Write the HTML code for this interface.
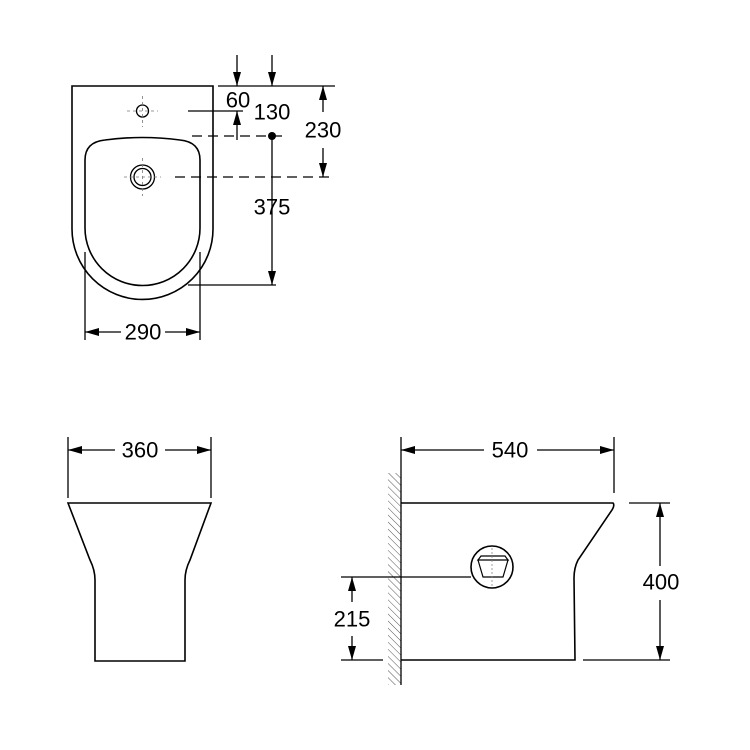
<!DOCTYPE html>
<html><head><meta charset="utf-8"><style>
html,body{margin:0;padding:0;background:#fff}
svg{display:block}
text{font-family:"Liberation Sans",sans-serif;font-size:22px;fill:#000;text-anchor:middle;dominant-baseline:central}
</style></head><body>
<svg width="750" height="750" viewBox="0 0 750 750" xmlns="http://www.w3.org/2000/svg">
<defs>
<marker id="a" viewBox="0 0 14 10" refX="14" refY="5" markerWidth="14" markerHeight="10" markerUnits="userSpaceOnUse" orient="auto-start-reverse"><path d="M0,1 L14,5 L0,9 Z" fill="#000"/></marker>
<pattern id="h" width="5" height="5" patternUnits="userSpaceOnUse" patternTransform="rotate(-45)"><line x1="0" y1="0" x2="0" y2="5" stroke="#555" stroke-width="1"/></pattern>
</defs>
<g fill="none" stroke="#000" stroke-width="1.3">
<path d="M72,86 H213 V229 A70.5,70.5 0 0 1 72,229 Z" stroke-width="1.6"/>
<path d="M85,160 Q85,142 105,140 Q142,135 180,140 Q200,142 200,160 V228 A57.5,57.5 0 0 1 85,228 Z" stroke-width="1.6"/>
<circle cx="142.5" cy="111" r="6"/>
<circle cx="142.5" cy="177" r="12"/>
<circle cx="142.5" cy="177" r="8.5"/>
<g stroke="#777" stroke-width="0.8" stroke-dasharray="3,3">
<line x1="127" y1="111" x2="158" y2="111"/><line x1="142.5" y1="96" x2="142.5" y2="127"/>
<line x1="124" y1="177" x2="161" y2="177"/><line x1="142.5" y1="158" x2="142.5" y2="196"/>
</g>
<g stroke-dasharray="10,6">
<line x1="192" y1="136" x2="282" y2="136"/>
<line x1="175" y1="177" x2="335" y2="177"/>
</g>
<line x1="218" y1="86" x2="335" y2="86"/>
<line x1="188" y1="111" x2="243" y2="111"/>
<line x1="237" y1="55" x2="237" y2="86" marker-end="url(#a)"/>
<line x1="272" y1="55" x2="272" y2="86" marker-end="url(#a)"/>
<line x1="237" y1="140" x2="237" y2="111" marker-end="url(#a)"/>
<line x1="272" y1="136" x2="272" y2="285" marker-end="url(#a)"/>
<line x1="188" y1="285" x2="276" y2="285"/>
<line x1="323" y1="112" x2="323" y2="86" marker-end="url(#a)"/>
<line x1="323" y1="148" x2="323" y2="177" marker-end="url(#a)"/>
<line x1="85" y1="252" x2="85" y2="340"/>
<line x1="200" y1="252" x2="200" y2="340"/>
<line x1="121" y1="332" x2="85" y2="332" marker-end="url(#a)"/>
<line x1="165" y1="332" x2="200" y2="332" marker-end="url(#a)"/>
<line x1="68" y1="437" x2="68" y2="498"/>
<line x1="211" y1="437" x2="211" y2="498"/>
<line x1="115" y1="450" x2="68" y2="450" marker-end="url(#a)"/>
<line x1="165" y1="450" x2="211" y2="450" marker-end="url(#a)"/>
<path d="M68,503 H211 L190,560 Q185,570 185,580 L185,661 H95 L95,580 Q95,570 90,560 Z" stroke-width="1.6"/>
<rect x="388" y="473" width="13" height="212" fill="url(#h)" stroke="none"/>
<line x1="401" y1="437" x2="401" y2="685"/>
<line x1="614" y1="437" x2="614" y2="493"/>
<line x1="484" y1="450" x2="401" y2="450" marker-end="url(#a)"/>
<line x1="537" y1="450" x2="614" y2="450" marker-end="url(#a)"/>
<path d="M401,503 H613 Q615,505 612,510 L578,560 Q574,568 574,578 L575,660 H401" stroke-width="1.6"/>
<line x1="629" y1="503" x2="670" y2="503"/>
<line x1="583" y1="660" x2="670" y2="660"/>
<line x1="660" y1="566" x2="660" y2="503" marker-end="url(#a)"/>
<line x1="660" y1="600" x2="660" y2="660" marker-end="url(#a)"/>
<line x1="341" y1="577" x2="471" y2="577"/>
<line x1="341" y1="660" x2="383" y2="660"/>
<line x1="352" y1="602" x2="352" y2="577" marker-end="url(#a)"/>
<line x1="352" y1="636" x2="352" y2="660" marker-end="url(#a)"/>
<circle cx="492" cy="567" r="21" stroke-width="1.6"/>
<path d="M478,560 L483,577 H503 L508,560 Z M478,560 H508 L505,556 H481 Z" stroke-width="1.2"/>
<line x1="492" y1="548" x2="492" y2="586" stroke="#888" stroke-width="0.8" stroke-dasharray="2,2"/>
</g>
<circle cx="272" cy="136" r="4" fill="#000"/>
<text x="238" y="100">60</text>
<text x="272" y="112">130</text>
<text x="323" y="130">230</text>
<text x="272" y="207">375</text>
<text x="143" y="332">290</text>
<text x="140" y="450">360</text>
<text x="510" y="450">540</text>
<text x="661" y="582">400</text>
<text x="352" y="619">215</text>
</svg>
</body></html>
